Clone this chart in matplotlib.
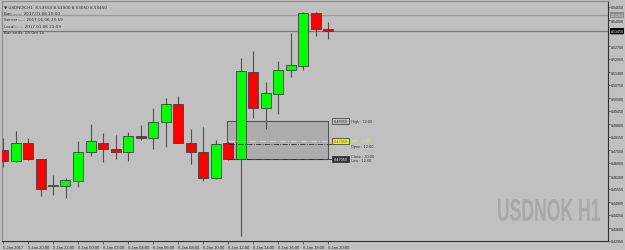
import matplotlib
matplotlib.use("Agg")
import matplotlib.pyplot as plt
from matplotlib.textpath import TextPath
from matplotlib.patches import PathPatch
from matplotlib.font_manager import FontProperties
from matplotlib.transforms import Affine2D, IdentityTransform

# USDNOK H1 candles
opens  = [8.4750, 8.4695, 8.4785, 8.4705, 8.4570, 8.4570, 8.4595, 8.4740, 8.4785,
          8.4755, 8.4740, 8.4820, 8.4810, 8.4890, 8.4980, 8.4785, 8.4740, 8.4610,
          8.4785, 8.4705, 8.5140, 8.4960, 8.5030, 8.5150, 8.5170, 8.5435, 8.5355]
highs  = [8.4810, 8.4845, 8.4810, 8.4705, 8.4625, 8.4610, 8.4795, 8.4880, 8.4835,
          8.4825, 8.4840, 8.4875, 8.4960, 8.5010, 8.5020, 8.4855, 8.4865, 8.4800,
          8.4795, 8.5210, 8.5245, 8.5090, 8.5195, 8.5335, 8.5440, 8.5440, 8.5390]
lows   = [8.4665, 8.4690, 8.4700, 8.4520, 8.4525, 8.4510, 8.4565, 8.4720, 8.4690,
          8.4705, 8.4695, 8.4800, 8.4755, 8.4765, 8.4785, 8.4680, 8.4595, 8.4605,
          8.4700, 8.4320, 8.4910, 8.4855, 8.4930, 8.5115, 8.5150, 8.5320, 8.5305]
closes = [8.4695, 8.4785, 8.4705, 8.4555, 8.4572, 8.4600, 8.4740, 8.4795, 8.4755,
          8.4740, 8.4820, 8.4810, 8.4890, 8.4980, 8.4785, 8.4740, 8.4610, 8.4780,
          8.4705, 8.5145, 8.4960, 8.5035, 8.5150, 8.5175, 8.5435, 8.5355, 8.5345]

time_labels = ["5 Jan 2017", "5 Jan 20:00", "5 Jan 22:00", "6 Jan 00:00", "6 Jan 02:00",
               "6 Jan 04:00", "6 Jan 06:00", "6 Jan 08:00", "6 Jan 10:00", "6 Jan 12:00",
               "6 Jan 14:00", "6 Jan 16:00", "6 Jan 18:00", "6 Jan 20:00"]
price_ticks = [8.5465 - k * 0.0065 for k in range(19)]

bid = 8.5345
ask = 8.5425
box_high, box_low = 8.4895, 8.4705
mid_line = 8.4795
open_line = 8.4780

bg = "#c0c0c0"
small = ["Liberation Sans", "DejaVu Sans"]
plt.rcParams["font.family"] = small

fig = plt.figure(figsize=(6.25, 2.51), dpi=100, facecolor=bg)
ax = fig.add_axes([2 / 625, 9 / 251, 606 / 625, 240 / 251], facecolor=bg)

n = len(opens)
xs = list(range(n))

# rectangle object (drawn behind candles)
ax.fill_between([17.92, 26.0], box_low, box_high, color="#acacac", zorder=1)
ax.plot([17.92, 26.0, 26.0, 17.92, 17.92], [box_high, box_high, box_low, box_low, box_high],
        color="#505050", lw=0.7, zorder=1.5)

# bid / ask lines
ax.axhline(ask, color="#9a9a9a", lw=0.9, zorder=1)
ax.axhline(bid, color="#7a7a7a", lw=0.9, zorder=1)

# candles
for i in xs:
    o, h, l, c = opens[i], highs[i], lows[i], closes[i]
    col = "#00ff00" if c >= o else "#ff0000"
    ax.vlines(i, l, h, color="#505050", lw=0.8, zorder=2)
    ax.bar(i, max(abs(c - o), 0.0003), bottom=min(o, c), width=0.8, color=col,
           edgecolor="#404040", linewidth=0.6, zorder=3)

# dash-dot level lines
ax.plot([17.2, 27.3], [mid_line, mid_line], color="#e8e840", lw=0.7, ls="-.", zorder=4)
ax.plot([18.1, 26.6], [open_line, open_line], color="#303030", lw=0.6, ls="-.", zorder=4)
ax.plot([18.1, 26.6], [box_low, box_low], color="#303030", lw=0.6, ls="-.", zorder=4)

# price tags on the right of the rectangle
tags = [(box_high, "8.48950", "#c0c0c0", "#303030", "High : 12:00", "#303030", 0),
        (mid_line, "8.47950", "#e8e840", "#808000", "Mid : 12:00", "#e8e840", 0.0003),
        (box_low, "8.47050", "#303030", "#ffffff", "Low : 12:00", "#303030", -0.0006)]
for p, txt, fc, tc, lab, lc, off in tags:
    ax.text(26.45, p, txt, fontsize=2.8, color=tc, va="center", ha="left", zorder=5,
            bbox=dict(boxstyle="square,pad=0.3", fc=fc, ec="#303030", lw=0.5))
    ax.text(27.85, p + off, lab, fontsize=2.8, color=lc, va="center", ha="left", zorder=5)
ax.text(27.85, open_line - 0.0008, "Open : 12:00", fontsize=2.8, color="#303030",
        va="center", ha="left", zorder=5)
ax.text(27.85, box_low + 0.0013, "Close : 20:00", fontsize=2.8, color="#303030",
        va="center", ha="left", zorder=5)

# watermark, squeezed to the narrow bold look of the terminal font
tp = TextPath((0, 0), "USDNOK H1", size=1,
              prop=FontProperties(family=["Liberation Sans Narrow", "Liberation Sans"], weight="bold"))
ext = tp.get_extents()
sx = 102 / ext.width
sy = 22 / ext.height
wm_tr = Affine2D().translate(-ext.x0, -ext.y0).scale(sx, sy).translate(498, 29)
fig.patches.append(PathPatch(tp, transform=wm_tr + IdentityTransform(), fc="#a8a8a8",
                             ec="none", figure=fig))

# info header
header = ["\u25bc USDNOK,H1  8.53550 8.53900 8.53050 8.53450",
          "Bar:........ 2017.01.06 20:00",
          "Server:..... 2017.01.06 23:59",
          "Local:...... 2017.01.06 23:59",
          "Bar ends: 0h 0m 1s"]
for k, line in enumerate(header):
    ax.text(0.004, 0.985 - k * 0.0265, line, transform=ax.transAxes, fontsize=3,
            color="#303030", va="top", ha="left", family=["DejaVu Sans"])

ax.set_xlim(-0.08, 48.4)
ax.set_ylim(8.4295, 8.5495)

ax.set_xticks(xs[::2])
ax.set_xticklabels(time_labels, fontsize=3, color="#202020")
for t in ax.get_xticklabels():
    t.set_ha("left")
ax.tick_params(axis="x", length=2, width=0.5, pad=1, color="#404040")

ax.yaxis.tick_right()
ax.set_yticks(price_ticks)
ax.set_yticklabels(["%.5f" % p for p in price_ticks], fontsize=2.6, color="#202020")
ax.tick_params(axis="y", length=1.5, width=0.5, pad=0.8, color="#404040")

# current bid / ask tags on the price axis
ax.text(1.004, (ask - 8.4295) / 0.12, "%.5f" % ask, transform=ax.transAxes, fontsize=2.6,
        color="#e0e0e0", va="center", ha="left",
        bbox=dict(boxstyle="square,pad=0.25", fc="#8a8a8a", ec="none"))
ax.text(1.004, (bid - 8.4295) / 0.12, "%.5f" % bid, transform=ax.transAxes, fontsize=2.6,
        color="#ffffff", va="center", ha="left",
        bbox=dict(boxstyle="square,pad=0.25", fc="#000000", ec="none"))

for s in ["left", "top"]:
    ax.spines[s].set_color("#8a8a8a")
    ax.spines[s].set_linewidth(0.8)
for s in ["right", "bottom"]:
    ax.spines[s].set_color("#303030")
    ax.spines[s].set_linewidth(0.8)

fig.savefig("out.png", dpi=100, facecolor=bg)
